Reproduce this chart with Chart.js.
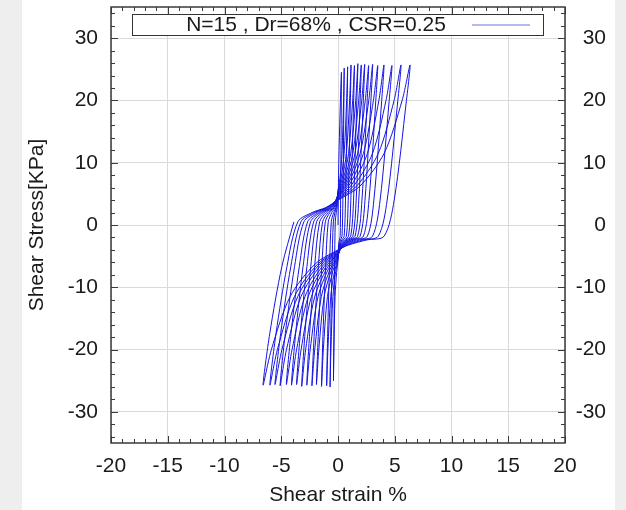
<!DOCTYPE html>
<html>
<head>
<meta charset="utf-8">
<script src="https://cdn.jsdelivr.net/npm/chart.js@4.4.1/dist/chart.umd.min.js"></script>
<style>
  body { margin: 0; background: #eeeeee; }
  #wrap { position: absolute; left: 22px; top: 0; width: 593px; height: 510px; background: #fff; }
</style>
</head>
<body>
<div id="wrap"><canvas id="myChart" width="593" height="510"></canvas></div>
<script>
var seriesLabel = "N=15 , Dr=68% , CSR=0.25";
var xTicks = [-20, -15, -10, -5, 0, 5, 10, 15, 20];
var yTicks = [-30, -20, -10, 0, 10, 20, 30];

// shear strain (%) along the test path, one line per half cycle
var strain = [
  0, 0.05, 0.15, 0.3,
  0.29, 0.23, 0.19, 0.12, 0.05, 0, -0.12, -0.26, -0.36, -0.4,
  -0.36, -0.3, -0.24, -0.15, -0.07, 0, 0.17, 0.35, 0.49, 0.55,
  0.52, 0.43, 0.35, 0.22, 0.08, 0, -0.21, -0.45, -0.62, -0.7,
  -0.64, -0.53, -0.41, -0.27, -0.13, 0, 0.26, 0.54, 0.76, 0.85,
  0.81, 0.66, 0.54, 0.34, 0.13, 0, -0.3, -0.64, -0.89, -1.0,
  -0.91, -0.75, -0.59, -0.38, -0.18, 0, 0.35, 0.74, 1.02, 1.15,
  1.09, 0.9, 0.74, 0.46, 0.17, 0, -0.44, -0.93, -1.29, -1.45,
  -1.32, -1.09, -0.86, -0.55, -0.26, 0, 0.44, 0.93, 1.29, 1.45,
  1.38, 1.13, 0.93, 0.58, 0.22, 0, -0.57, -1.22, -1.69, -1.9,
  -1.73, -1.43, -1.12, -0.72, -0.34, 0, 0.53, 1.12, 1.56, 1.75,
  1.66, 1.37, 1.12, 0.7, 0.26, 0, -0.69, -1.47, -2.05, -2.3,
  -2.09, -1.73, -1.36, -0.87, -0.41, 0, 0.62, 1.31, 1.82, 2.05,
  1.95, 1.6, 1.31, 0.82, 0.31, 0, -0.83, -1.76, -2.45, -2.75,
  -2.5, -2.06, -1.62, -1.05, -0.5, 0, 0.71, 1.5, 2.09, 2.35,
  2.23, 1.83, 1.5, 0.94, 0.35, 0, -0.96, -2.05, -2.85, -3.2,
  -2.91, -2.4, -1.89, -1.22, -0.58, 0, 0.81, 1.73, 2.4, 2.7,
  2.57, 2.11, 1.73, 1.08, 0.41, 0, -1.1, -2.34, -3.25, -3.65,
  -3.32, -2.74, -2.15, -1.39, -0.66, 0, 0.92, 1.95, 2.71, 3.05,
  2.9, 2.38, 1.95, 1.22, 0.46, 0, -1.23, -2.62, -3.65, -4.1,
  -3.73, -3.08, -2.42, -1.56, -0.74, 0, 1.05, 2.24, 3.12, 3.5,
  3.33, 2.73, 2.24, 1.4, 0.53, 0, -1.37, -2.91, -4.05, -4.55,
  -4.14, -3.41, -2.68, -1.73, -0.82, 0, 1.22, 2.59, 3.6, 4.05,
  3.85, 3.16, 2.59, 1.62, 0.61, 0, -1.53, -3.26, -4.54, -5.1,
  -4.64, -3.83, -3.01, -1.94, -0.92, 0, 1.43, 3.04, 4.23, 4.75,
  4.51, 3.71, 3.04, 1.9, 0.71, 0, -1.67, -3.55, -4.94, -5.55,
  -5.05, -4.16, -3.27, -2.11, -1.0, 0, 1.67, 3.55, 4.94, 5.55,
  5.27, 4.33, 3.55, 2.22, 0.83, 0, -1.8, -3.84, -5.34, -6.0,
  -5.46, -4.5, -3.54, -2.28, -1.08, 0, 1.91, 4.06, 5.65, 6.35,
  6.03, 4.95, 4.06, 2.54, 0.95, 0, -1.98, -4.22, -5.87, -6.6,
  -6.01, -4.95, -3.89
];

// shear stress (kPa), same order as strain
var stress = [
  0, 8, 16, 24.5,
  20, 4, -1.8, -2.4, -3.2, -5.6, -7.6, -11.5, -20, -25.0,
  -17.4, -6.7, 0.5, 2, 2.8, 5.5, 7.5, 11.5, 20, 25.2,
  20, 4, -1.8, -2.4, -3.2, -5.4, -7.5, -11.5, -20, -26.0,
  -17.4, -6.7, 0.5, 2, 2.8, 5.4, 7.4, 11.5, 20, 25.4,
  20, 4, -1.8, -2.4, -3.2, -5.3, -7.4, -11.5, -20, -25.8,
  -17.4, -6.7, 0.5, 2, 2.8, 5.2, 7.3, 11.5, 20, 25.7,
  20, 4, -1.8, -2.4, -3.2, -5.1, -7.3, -11.5, -20, -25.9,
  -17.4, -6.7, 0.5, 2, 2.8, 5.1, 7.2, 11.5, 20, 25.6,
  20, 4, -1.8, -2.4, -3.2, -5.0, -7.2, -11.5, -20, -25.6,
  -17.4, -6.7, 0.5, 2, 2.8, 4.9, 7.1, 11.5, 20, 25.9,
  20, 4, -1.8, -2.4, -3.2, -4.9, -7.1, -11.5, -20, -25.8,
  -17.4, -6.7, 0.5, 2, 2.8, 4.8, 7.0, 11.5, 20, 25.7,
  20, 4, -1.8, -2.4, -3.2, -4.8, -7.0, -11.5, -20, -25.7,
  -17.4, -6.7, 0.5, 2, 2.8, 4.7, 6.9, 11.5, 20, 25.8,
  20, 4, -1.8, -2.4, -3.2, -4.7, -6.9, -11.5, -20, -25.9,
  -17.4, -6.7, 0.5, 2, 2.8, 4.6, 6.8, 11.5, 20, 25.6,
  20, 4, -1.8, -2.4, -3.2, -4.6, -6.8, -11.5, -20, -25.6,
  -17.4, -6.7, 0.5, 2, 2.8, 4.5, 6.7, 11.5, 20, 25.8,
  20, 4, -1.8, -2.4, -3.2, -4.5, -6.7, -11.5, -20, -25.7,
  -17.4, -6.7, 0.5, 2, 2.8, 4.4, 6.6, 11.5, 20, 25.6,
  20, 4, -1.8, -2.4, -3.2, -4.4, -6.6, -11.5, -20, -25.6,
  -17.4, -6.7, 0.5, 2, 2.8, 4.3, 6.5, 11.5, 20, 25.7,
  20, 4, -1.8, -2.4, -3.2, -4.3, -6.5, -11.5, -20, -25.8,
  -17.4, -6.7, 0.5, 2, 2.8, 4.2, 6.4, 11.5, 20, 25.6,
  20, 4, -1.8, -2.4, -3.2, -4.2, -6.4, -11.5, -20, -25.6,
  -17.4, -6.7, 0.5, 2, 2.8, 4.1, 6.3, 11.5, 20, 25.7,
  20, 4, -1.8, -2.4, -3.2, -4.1, -6.3, -11.5, -20, -25.7,
  -17.4, -6.7, 0.5, 2, 2.8, 4.0, 6.2, 11.5, 20, 25.7,
  20, 4, -1.8, -2.4, -3.2, -4.0, -6.2, -11.5, -20, -25.7,
  -17.4, -6.7, 0.5
];

var lineColor = "rgb(20, 20, 225)";
var textColor = "#1a1a1a";
var gridColor = "#dadada";
var font = { family: "'Liberation Sans', Arial, sans-serif", size: 21 };

var points = strain.map(function (s, i) {
  return { x: s, y: stress[i] };
});

// minor tick positions (every 1 on x, every 2 on y)
var xMinor = [];
for (var i = -19; i <= 19; i++) if (i % 5 !== 0) xMinor.push(i);
var yMinor = [];
for (var j = -34; j <= 34; j += 2) if (j % 10 !== 0) yMinor.push(j);

function noPad(scale) {
  scale.paddingTop = 0;
  scale.paddingBottom = 0;
  scale.paddingLeft = 0;
  scale.paddingRight = 0;
}

// gnuplot style frame: inward ticks on all sides + boxed key
var frame = {
  id: "frame",
  afterDraw: function (chart) {
    var c = chart.ctx;
    var a = chart.chartArea;
    var sx = chart.scales.x;
    var sy = chart.scales.y;
    c.save();
    c.strokeStyle = "#3a3a3a";
    c.lineWidth = 1;
    c.beginPath();
    function xt(v, len) {
      var p = Math.round(sx.getPixelForValue(v)) + 0.5;
      c.moveTo(p, a.bottom); c.lineTo(p, a.bottom - len);
      c.moveTo(p, a.top); c.lineTo(p, a.top + len);
    }
    function yt(v, len) {
      var p = Math.round(sy.getPixelForValue(v)) + 0.5;
      c.moveTo(a.left, p); c.lineTo(a.left + len, p);
      c.moveTo(a.right, p); c.lineTo(a.right - len, p);
    }
    xTicks.forEach(function (v) { xt(v, 7); });
    xMinor.forEach(function (v) { xt(v, 4); });
    yTicks.forEach(function (v) { yt(v, 7); });
    yMinor.forEach(function (v) { yt(v, 4); });
    c.stroke();
    c.lineWidth = 1.5;
    c.strokeRect(a.left, a.top, a.right - a.left, a.bottom - a.top);

    // key box
    var bx = 110, by = 14, bw = 411, bh = 21;
    c.fillStyle = "#fff";
    c.fillRect(bx, by, bw, bh);
    c.lineWidth = 1;
    c.strokeStyle = "#333";
    c.strokeRect(bx + 0.5, by + 0.5, bw, bh);
    c.fillStyle = textColor;
    c.font = font.size + "px " + font.family;
    c.textAlign = "center";
    c.textBaseline = "middle";
    c.fillText(seriesLabel, 294, by + bh / 2 + 1);
    c.strokeStyle = "rgb(110, 110, 225)";
    c.beginPath();
    c.moveTo(450, by + bh / 2 + 0.5);
    c.lineTo(508, by + bh / 2 + 0.5);
    c.stroke();
    c.restore();
  }
};

var ctx = document.getElementById("myChart").getContext("2d");
var myChart = new Chart(ctx, {
  type: "scatter",
  data: {
    datasets: [
      {
        label: seriesLabel,
        data: points,
        showLine: true,
        borderColor: lineColor,
        borderWidth: 1,
        pointRadius: 0,
        tension: 0.3,
        fill: false,
      },
    ],
  },
  options: {
    responsive: false,
    animation: false,
    layout: { padding: { top: 7, left: 0, right: 9, bottom: 0 } },
    plugins: {
      legend: { display: false },
      tooltip: { enabled: false },
    },
    scales: {
      x: {
        type: "linear",
        min: -20,
        max: 20,
        afterBuildTicks: function (axis) {
          axis.ticks = xTicks.map(function (v) { return { value: v }; });
        },
        afterFit: function (scale) { scale.height = 67; noPad(scale); },
        grid: { color: gridColor, drawTicks: false },
        border: { display: false },
        ticks: { font: font, color: textColor, padding: 11 },
        title: {
          display: true,
          text: "Shear strain %",
          font: font,
          color: textColor,
          padding: { top: 0, bottom: 2 },
        },
      },
      y: {
        type: "linear",
        min: -35,
        max: 35,
        afterBuildTicks: function (axis) {
          axis.ticks = yTicks.map(function (v) { return { value: v }; });
        },
        afterFit: function (scale) { scale.width = 89; noPad(scale); },
        grid: { color: gridColor, drawTicks: false },
        border: { display: false },
        ticks: { font: font, color: textColor, padding: 13 },
        title: {
          display: true,
          text: "Shear Stress[KPa]",
          font: font,
          color: textColor,
          padding: { top: 3, bottom: 0 },
        },
      },
      y2: {
        type: "linear",
        position: "right",
        min: -35,
        max: 35,
        afterBuildTicks: function (axis) {
          axis.ticks = yTicks.map(function (v) { return { value: v }; });
        },
        afterFit: function (scale) { scale.width = 41; noPad(scale); },
        grid: { display: false, drawTicks: false },
        border: { display: false },
        ticks: { font: font, color: textColor, padding: 10, crossAlign: "far" },
      },
    },
  },
  plugins: [frame],
});
</script>
</body>
</html>
